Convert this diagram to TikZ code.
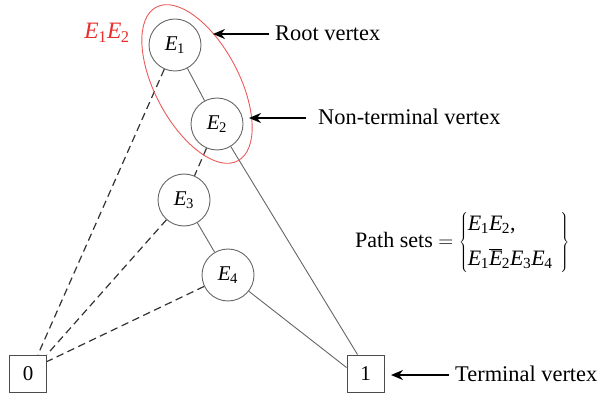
\documentclass[tikz,border=0pt]{standalone}
\usepackage{fontspec}
\setmainfont{Liberation Serif}
\usetikzlibrary{shapes.geometric,arrows.meta}
\newcommand\Ev[1]{\textit{E}\kern-0.5pt\textsubscript{#1}}
\begin{document}
\begin{tikzpicture}[x=1pt,y=-1pt,
  vtx/.style={circle,draw=black!60,line width=0.9pt,minimum size=52pt,inner sep=0pt,font=\fontsize{21}{24}\selectfont},
  term/.style={rectangle,draw=black!70,line width=0.9pt,minimum size=37pt,inner sep=0pt,font=\fontsize{21}{24}\selectfont},
  solidedge/.style={draw=black!60,line width=0.9pt},
  dashedge/.style={draw=black!80,line width=1.2pt,dash pattern=on 7.5pt off 4.5pt},
  pointer/.style={draw=black,line width=1.7pt,-{Stealth[length=12pt,width=10pt]}},
  lbl/.style={anchor=west,font=\fontsize{22.4}{26}\selectfont,inner sep=0pt}]
\useasboundingbox (0,0) rectangle (601,395);
\node[vtx] (e1) at (175,45) {\Ev{1}};
\node[vtx] (e2) at (217,124) {\Ev{2}};
\node[vtx] (e3) at (184,200) {\Ev{3}};
\node[vtx] (e4) at (228,275) {\Ev{4}};
\node[term] (t0) at (28,373.5) {0};
\node[term] (t1) at (365.5,373.5) {1};
\coordinate (t0a) at ([xshift=-9pt]t0.north east);
\coordinate (t0c) at ([yshift=-7pt]t0.north east);
\coordinate (t1a) at ([xshift=-8pt]t1.north);
\coordinate (t1b) at ([yshift=-13pt]t1.north west);
\draw[solidedge] (e1) -- (e2);
\draw[solidedge] (e2) -- (t1a);
\draw[solidedge] (e3) -- (e4);
\draw[solidedge] (e4) -- (t1b);
\draw[dashedge] (e1) -- (t0a);
\draw[dashedge] (e2) -- (e3);
\draw[dashedge] (e3) -- (t0.north east);
\draw[dashedge] (e4) -- (t0c);
\node[draw={rgb,255:red,235;green,90;blue,90},line width=0.9pt,ellipse,minimum width=174pt,minimum height=84pt,inner sep=0pt,rotate=-62] (grp) at (197,84) {};
\node[text={rgb,255:red,232;green,45;blue,45},font=\fontsize{23.5}{27}\selectfont] (glbl) at (107,33) {\Ev{1}\Ev{2}};
\coordinate (a1s) at (269,34);
\coordinate (a1e) at (213,34);
\draw[pointer] (a1s) -- (a1e);
\node[lbl] (l1) at (275,33) {Root vertex};
\coordinate (a2s) at (306,118);
\coordinate (a2e) at (249,118);
\draw[pointer] (a2s) -- (a2e);
\node[lbl] (l2) at (318,117) {Non-terminal vertex};
\coordinate (a3s) at (449,375);
\coordinate (a3e) at (391,375);
\draw[pointer] (a3s) -- (a3e);
\node[lbl] (l3) at (455,374) {Terminal vertex};
\node[anchor=west,inner sep=0pt,font=\fontsize{22}{26}\selectfont] (ps) at (355,242.5)
  {Path sets $=\left\{\begin{array}{@{}l@{\hspace{8pt}}}\hbox{\Ev{1}\Ev{2},}\\[9pt]\hbox{\Ev{1}$\overline{\hbox{\textit{E}}}$\kern-0.5pt\textsubscript{2}\Ev{3}\Ev{4}}\end{array}\right\}$};
\end{tikzpicture}
\end{document}
